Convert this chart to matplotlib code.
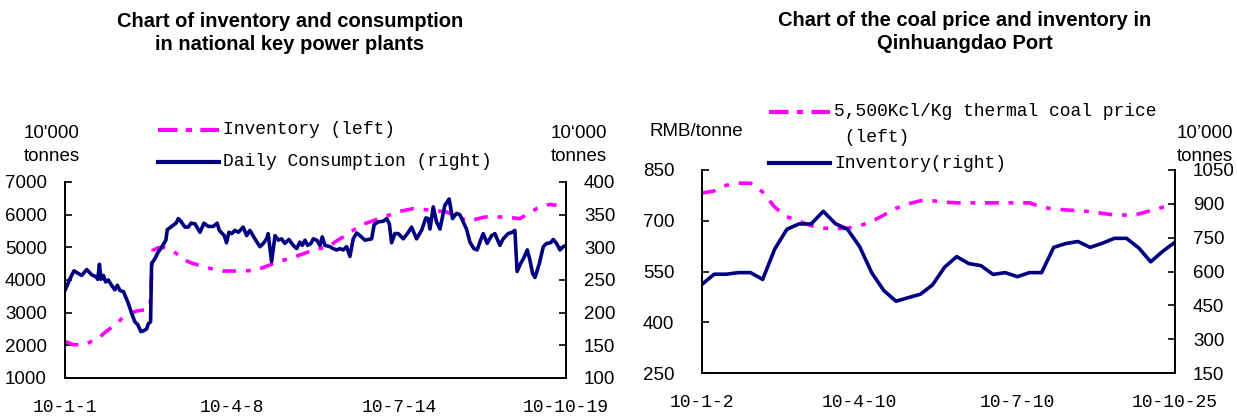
import matplotlib
matplotlib.use("Agg")
import matplotlib.pyplot as plt
from matplotlib.lines import Line2D

plt.rcParams['font.family'] = ['Liberation Sans', 'DejaVu Sans']
plt.rcParams['lines.scale_dashes'] = False

# ---- left chart: national key power plants (days from 2010-01-01)
cons_days = [0, 2.9, 5.2, 7.7, 9.7, 12.6, 15.5, 18, 19, 20, 20.9, 22.3, 23.6, 25.2, 27, 29,
             30.4, 31.9, 34, 36.8, 38.7, 40.6, 42.2, 44.1, 45.5, 47.4, 48.4, 49.7, 50.3, 52.3,
             54.2, 56.1, 58.6, 59.4, 62, 64.5, 65.8, 67.2, 69.7, 71.6, 73.2, 75.5, 78.4, 80.7,
             83.2, 86.1, 88.4, 89.6, 92.5, 93.8, 95.2, 96.8, 98.7, 100.7, 103.5, 105.5, 107.4,
             110.3, 113.2, 115.2, 117.1, 118, 120, 122, 123.9, 125.8, 127.7, 130, 132.6, 134.5,
             136.4, 137.8, 139.4, 140.9, 142.9, 144.2, 146.2, 148.1, 149.4, 151, 153.9, 155.8,
             157.8, 159.7, 161.6, 163.6, 165.5, 167.4, 169.4, 171.3, 174.2, 176.1, 178.1, 179.6,
             182, 184.9, 186.8, 188.4, 189.7, 191.6, 193.6, 196.5, 199.4, 201.3, 204.2, 207.1,
             209.6, 211, 212, 213.9, 215.8, 217.8, 220.6, 223.1, 225.1, 227.4, 229.3, 231.3,
             233.2, 235.2, 237.5, 239.4, 241.4, 242.9, 245.2, 247.8, 249.7, 252.6, 254.5, 257.4,
             259.7, 261.3, 262.6, 264.6, 266.5, 268.5, 270, 271.6, 273, 275.5, 277.8, 279.7, 282,
             283.6, 285.5, 287.5, 289.4, 291]
consumption = [234, 252, 264, 260, 257, 266, 258, 255, 251, 274, 251, 257, 247, 250, 242, 235,
               242, 234, 232, 214, 199, 186, 182, 171, 172, 175, 183, 186, 275, 283,
               293, 300, 311, 327, 332, 337, 344, 340, 331, 331, 337, 336, 323, 337,
               332, 332, 337, 326, 318, 307, 323, 321, 326, 323, 331, 318, 326,
               313, 301, 306, 313, 321, 278, 318, 311, 313, 306, 312, 303, 298,
               308, 303, 311, 303, 306, 313, 311, 303, 316, 303, 301, 298,
               296, 298, 296, 301, 286, 313, 322, 318, 311, 312, 313, 335,
               339, 340, 344, 336, 307, 321, 321, 313, 323, 331, 313, 326,
               345, 344, 328, 362, 339, 328, 364, 374, 344, 352, 350, 339,
               328, 308, 298, 296, 311, 321, 306, 318, 321, 303, 313, 321,
               323, 326, 263, 275, 284, 296, 281, 260, 254, 275, 301, 306, 307,
               312, 306, 296, 301, 303]

inv_days = [0, 1, 4.8, 11.6, 20.3, 22.3, 31, 34.9, 41.6, 48, 49.5, 50, 51, 54.2, 58, 61.9,
            64.8, 69.7, 73.5, 82.2, 91.8, 102.6, 111.3, 113.2, 122, 126.7, 133.2, 141.2, 144.2,
            152.9, 156.8, 163.6, 172.3, 175.2, 183.9, 190.7, 194.5, 202.2, 213.9, 221.6, 234.2,
            243.9, 255.5, 264.2, 273.9, 281.6, 285.5]
inventory = [2100, 2100, 2020, 2020, 2255, 2357, 2714, 2918, 3051, 3100, 3300, 3840, 4908, 4990,
             4990, 4908, 4806, 4602, 4520, 4378, 4276, 4276, 4296, 4347, 4520, 4602, 4704, 4857,
             4929, 5010, 5163, 5388, 5694, 5745, 5908, 6030, 6102, 6184, 6133, 6082, 5800,
             5929, 5929, 5878, 6184, 6316, 6286]

left_ticks = [0, 97, 194, 291]
left_ticklabels = ['10-1-1', '10-4-8', '10-7-14', '10-10-19']

# ---- right chart: Qinhuangdao port (observation index)
port_idx = list(range(40))
coal_price = [782, 788, 805, 811, 811, 785, 740, 712, 699, 685, 678, 677, 678, 685, 698, 717,
              737, 750, 759, 759, 755, 753, 753, 753, 753, 753, 753, 753, 740, 735, 732, 730,
              727, 722, 717, 717, 720, 730, 740, 745]
port_inventory = [543, 588, 588, 595, 595, 565, 700, 787, 811, 811, 867, 812, 787, 710, 594, 515,
                  468, 484, 499, 540, 619, 666, 635, 626, 587, 595, 577, 595, 595, 707, 724, 733,
                  707, 725, 747, 747, 705, 643, 690, 730]

right_ticks = [0, 13, 26, 39]
right_ticklabels = ['10-1-2', '10-4-10', '10-7-10', '10-10-25']

MAG = '#FF00FF'
NAVY = '#000080'
DASH = (10, 7, 3.5, 7)
MONO = 'Liberation Mono'
W, H = 1237.0, 417.0


def style(ax, ax2):
    for a in (ax, ax2):
        a.spines['top'].set_visible(False)
        for s in ('left', 'right', 'bottom'):
            a.spines[s].set_linewidth(1.3)
        a.tick_params(axis='y', direction='in', length=5, width=1.2, labelsize=13.5, pad=13)
        a.tick_params(axis='x', length=0, pad=15)
    for lab in ax.get_xticklabels():
        lab.set_fontfamily(MONO)
        lab.set_fontsize(13)


def legend_entry(x0, x1, y, color, dashes, text):
    ln = Line2D([x0 / W, x1 / W], [1 - y / H, 1 - y / H], transform=fig.transFigure,
                color=color, lw=3)
    if dashes:
        ln.set_dashes(dashes)
    fig.add_artist(ln)
    fig.text((x1 + 4) / W, 1 - y / H, text, family=MONO, fontsize=13, va='center', ha='left')


fig = plt.figure(figsize=(12.37, 4.17), dpi=100)

# left chart
ax = fig.add_axes([65 / W, 1 - 378 / H, 501 / W, 196 / H])
ax2 = ax.twinx()
ax.plot(inv_days, inventory, color=MAG, lw=2.6, dashes=DASH)
ax2.plot(cons_days, consumption, color=NAVY, lw=2.6)
ax.set_xlim(0, 291)
ax.set_ylim(1000, 7000)
ax.set_yticks(range(1000, 7001, 1000))
ax2.set_ylim(100, 400)
ax2.set_yticks(range(100, 401, 50))
ax.set_xticks(left_ticks)
ax.set_xticklabels(left_ticklabels)
style(ax, ax2)

fig.text(290 / W, 1 - 33 / H, 'Chart of inventory and consumption\nin national key power plants',
         ha='center', va='center', fontsize=14.5, fontweight='bold', linespacing=1.25)
fig.text(52 / W, 1 - 145 / H, "10'000\ntonnes", ha='center', va='center', fontsize=13.5,
         linespacing=1.45)
fig.text(579 / W, 1 - 145 / H, "10\u2018000\ntonnes", ha='center', va='center', fontsize=13.5,
         linespacing=1.45)
legend_entry(158, 219, 130, MAG, (14, 6, 4.5, 6), 'Inventory (left)')
legend_entry(158, 219, 162, NAVY, None, 'Daily Consumption (right)')

# right chart
bx = fig.add_axes([702 / W, 1 - 373 / H, 473 / W, 203 / H])
bx2 = bx.twinx()
bx.plot(port_idx, coal_price, color=MAG, lw=2.6, dashes=DASH)
bx2.plot(port_idx, port_inventory, color=NAVY, lw=2.6)
bx.set_xlim(0, 39)
bx.set_ylim(250, 850)
bx.set_yticks(range(250, 851, 150))
bx2.set_ylim(150, 1050)
bx2.set_yticks(range(150, 1051, 150))
bx.set_xticks(right_ticks)
bx.set_xticklabels(right_ticklabels)
style(bx, bx2)
bx.tick_params(axis='y', pad=20)

fig.text(965 / W, 1 - 32 / H, 'Chart of the coal price and inventory in\nQinhuangdao Port',
         ha='center', va='center', fontsize=14.5, fontweight='bold', linespacing=1.25)
fig.text(696 / W, 1 - 132 / H, 'RMB/tonne', ha='center', va='center', fontsize=13.5)
fig.text(1205 / W, 1 - 145 / H, "10\u2019000\ntonnes", ha='center', va='center', fontsize=13.5,
         linespacing=1.45)
legend_entry(769, 830, 112, MAG, (14, 6, 4.5, 6), '5,500Kcl/Kg thermal coal price')
fig.text(834 / W, 1 - 138 / H, ' (left)', family=MONO, fontsize=13, va='center', ha='left')
legend_entry(769, 830, 163, NAVY, None, 'Inventory(right)')

fig.savefig('out.png', dpi=100)
